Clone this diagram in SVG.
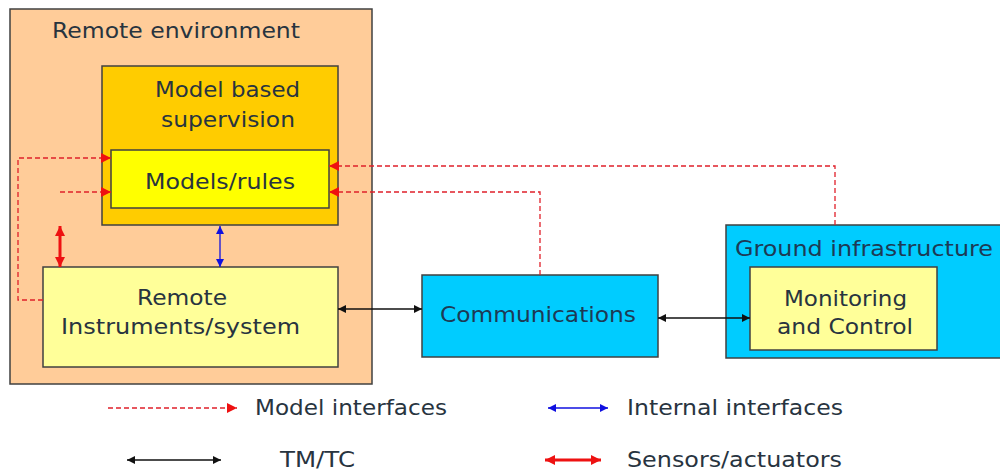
<svg xmlns="http://www.w3.org/2000/svg" width="1000" height="471" viewBox="0 0 1000 471">
  <defs>
    <style>
      .box { stroke: #404040; stroke-width: 1.5; }
      .lbl { font-family: "DejaVu Sans", Verdana, sans-serif; font-size: 22px; fill: #28343f; }
      .lbl-dark { fill: #1d3a55; }
      .mi { fill: none; stroke: #e0202a; stroke-width: 1.3; stroke-dasharray: 5 3; }
      .tm { fill: none; stroke: #111; stroke-width: 1.3; }
      .ii { fill: none; stroke: #1010e0; stroke-width: 1.3; }
      .sa { fill: none; stroke: #ee1111; stroke-width: 3; }
    </style>
    <marker id="head-red" viewBox="0 0 10 10" refX="10" refY="5" markerUnits="userSpaceOnUse" markerWidth="10" markerHeight="10" orient="auto-start-reverse">
      <path d="M0,0 L10,5 L0,10 z" fill="#ee1111"/>
    </marker>
    <marker id="head-black" viewBox="0 0 10 10" refX="10" refY="5" markerUnits="userSpaceOnUse" markerWidth="9" markerHeight="8" orient="auto-start-reverse">
      <path d="M0,0 L10,5 L0,10 z" fill="#111"/>
    </marker>
    <marker id="head-blue" viewBox="0 0 10 10" refX="10" refY="5" markerUnits="userSpaceOnUse" markerWidth="9" markerHeight="8" orient="auto-start-reverse">
      <path d="M0,0 L10,5 L0,10 z" fill="#1010e0"/>
    </marker>
    <marker id="head-thick" viewBox="0 0 10 10" refX="10" refY="5" markerUnits="userSpaceOnUse" markerWidth="10" markerHeight="10" orient="auto-start-reverse">
      <path d="M0,0 L10,5 L0,10 z" fill="#ee1111"/>
    </marker>
  </defs>

  <rect width="1000" height="471" fill="#ffffff"/>

  <!-- Remote side -->
  <g id="remote-environment">
    <rect class="box" x="10" y="9" width="362" height="375" fill="#ffcc99"/>
    <text class="lbl" x="52" y="38" textLength="248" lengthAdjust="spacingAndGlyphs">Remote environment</text>
  </g>

  <g id="model-based-supervision">
    <rect class="box" x="102" y="66" width="236" height="159" fill="#ffcc00"/>
    <text class="lbl" x="155" y="97" textLength="145" lengthAdjust="spacingAndGlyphs">Model based</text>
    <text class="lbl" x="161" y="127" textLength="134" lengthAdjust="spacingAndGlyphs">supervision</text>
  </g>

  <g id="models-rules">
    <rect class="box" x="111" y="150" width="218" height="58" fill="#ffff00"/>
    <text class="lbl" x="145" y="189" textLength="150" lengthAdjust="spacingAndGlyphs">Models/rules</text>
  </g>

  <g id="remote-instruments">
    <rect class="box" x="43" y="267" width="295" height="100" fill="#ffff99"/>
    <text class="lbl" x="137" y="305" textLength="90" lengthAdjust="spacingAndGlyphs">Remote</text>
    <text class="lbl" x="61" y="334" textLength="239" lengthAdjust="spacingAndGlyphs">Instruments/system</text>
  </g>

  <!-- Link and ground side -->
  <g id="communications">
    <rect class="box" x="422" y="275" width="236" height="82" fill="#00ccff"/>
    <text class="lbl lbl-dark" x="440" y="322" textLength="196" lengthAdjust="spacingAndGlyphs">Communications</text>
  </g>

  <g id="ground-infrastructure">
    <rect class="box" x="726" y="225" width="280" height="133" fill="#00ccff"/>
    <text class="lbl lbl-dark" x="735" y="256" textLength="258" lengthAdjust="spacingAndGlyphs">Ground infrastructure</text>
  </g>

  <g id="monitoring-control">
    <rect class="box" x="750" y="267" width="187" height="83" fill="#ffff99"/>
    <text class="lbl" x="784" y="306" textLength="123" lengthAdjust="spacingAndGlyphs">Monitoring</text>
    <text class="lbl" x="777" y="334" textLength="136" lengthAdjust="spacingAndGlyphs">and Control</text>
  </g>

  <g id="connectors">
    <!-- model interfaces -->
    <path class="mi" d="M43,300 H18 V158 H111" marker-end="url(#head-red)"/>
    <path class="mi" d="M60,192 H111" marker-end="url(#head-red)"/>
    <path class="mi" d="M835,225 V166 H329" marker-end="url(#head-red)"/>
    <path class="mi" d="M540,275 V192 H329" marker-end="url(#head-red)"/>
    <!-- sensors/actuators -->
    <path class="sa" d="M60,226 V267" marker-start="url(#head-thick)" marker-end="url(#head-thick)"/>
    <!-- internal interface -->
    <path class="ii" d="M220,226 V267" marker-start="url(#head-blue)" marker-end="url(#head-blue)"/>
    <!-- TM/TC -->
    <path class="tm" d="M338,309 H422" marker-start="url(#head-black)" marker-end="url(#head-black)"/>
    <path class="tm" d="M658,318 H750" marker-start="url(#head-black)" marker-end="url(#head-black)"/>
  </g>

  <g id="legend">
    <path class="mi" d="M108,408 H237" marker-end="url(#head-red)"/>
    <text class="lbl" x="255" y="415" textLength="192" lengthAdjust="spacingAndGlyphs">Model interfaces</text>
    <path class="ii" d="M548,408 H608" marker-start="url(#head-blue)" marker-end="url(#head-blue)"/>
    <text class="lbl" x="627" y="415" textLength="216" lengthAdjust="spacingAndGlyphs">Internal interfaces</text>
    <path class="tm" d="M127,460 H221" marker-start="url(#head-black)" marker-end="url(#head-black)"/>
    <text class="lbl" x="280" y="467" textLength="75" lengthAdjust="spacingAndGlyphs">TM/TC</text>
    <path class="sa" d="M545,460 H601" marker-start="url(#head-thick)" marker-end="url(#head-thick)"/>
    <text class="lbl" x="627" y="467" textLength="215" lengthAdjust="spacingAndGlyphs">Sensors/actuators</text>
  </g>
</svg>
